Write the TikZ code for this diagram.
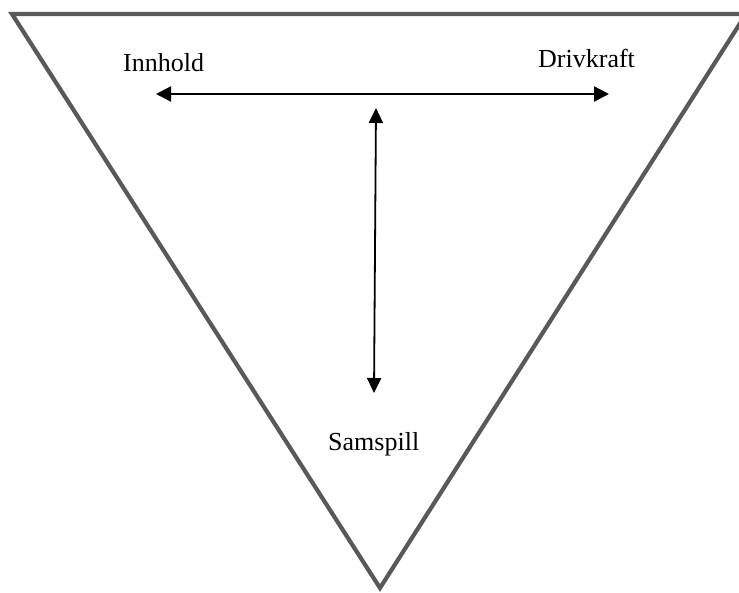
\documentclass[tikz,border=0pt]{standalone}
\usepackage{fontspec}
\setmainfont{Liberation Serif}
\usetikzlibrary{arrows.meta}
\begin{document}
\begin{tikzpicture}[x=1pt,y=-1pt,
  tri/.style={draw=black!65, line width=4.2pt, line join=miter},
  lbl/.style={font=\fontsize{26}{30}\selectfont, anchor=base west, inner sep=0pt},
  dbl/.style={draw=black, line width=2.2pt, {Triangle[length=15pt,width=15pt]}-{Triangle[length=15pt,width=15pt]}},
  vdbl/.style={draw=black, line width=1.8pt, {Triangle[length=15pt,width=14pt]}-{Triangle[length=15pt,width=14pt]}}]
\useasboundingbox (0,0) rectangle (739,593);
\coordinate (tl) at (12,14);
\coordinate (tr) at (746,14);
\coordinate (bt) at (380,588);
\draw[tri] (tl) -- (tr) -- (bt) -- cycle;
\node[lbl] (inn) at (123,72) {Innhold};
\node[lbl] (dri) at (538,68) {Drivkraft};
\node[lbl] (sam) at (328,450) {Samspill};
\coordinate (hl) at (156,94);
\coordinate (hr) at (609,94);
\coordinate (vt) at (376,108);
\coordinate (vb) at (374,393);
\draw[dbl] (hl) -- (hr);
\draw[vdbl] (vt) -- (vb);
\end{tikzpicture}
\end{document}
